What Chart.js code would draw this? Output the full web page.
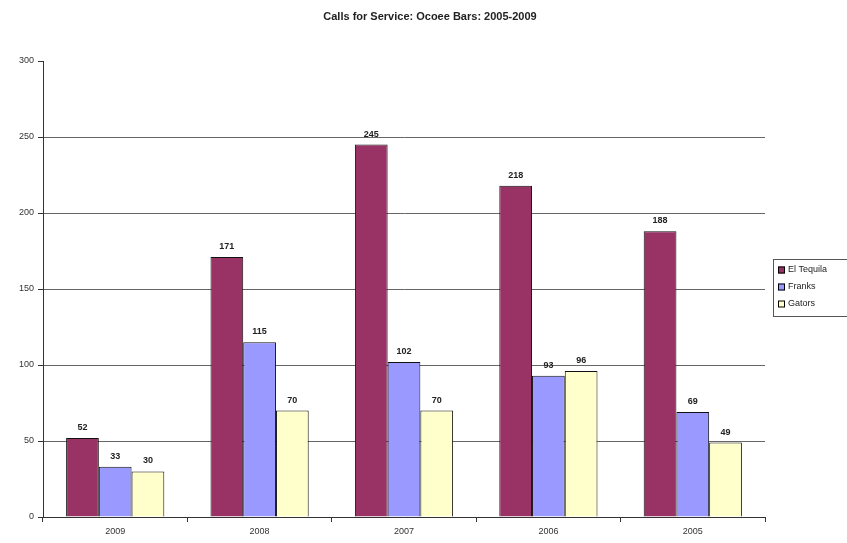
<!DOCTYPE html>
<html>
<head>
<meta charset="utf-8">
<script src="https://cdn.jsdelivr.net/npm/chart.js@4"></script>
<style>
  html, body { margin: 0; padding: 0; background: #fff; }
  #wrap { width: 847px; height: 543px; }
</style>
</head>
<body>
<div id="wrap"><canvas id="grafico"></canvas></div>
<script>
// dados
var anos = ['2009', '2008', '2007', '2006', '2005'];
var elTequila = [52, 171, 245, 218, 188];
var franks = [33, 115, 102, 93, 69];
var gators = [30, 70, 70, 96, 49];
var ticksY = [0, 50, 100, 150, 200, 250, 300];

var fonte = '"Liberation Sans", Arial, sans-serif';

// titulo
var tituloPlugin = {
    id: 'titulo',
    afterDraw: function (chart) {
        var ctx = chart.ctx;
        ctx.save();
        ctx.font = 'bold 11px ' + fonte;
        ctx.fillStyle = '#222';
        ctx.textAlign = 'center';
        ctx.textBaseline = 'middle';
        ctx.fillText('Calls for Service: Ocoee Bars: 2005-2009', 430, 17);
        ctx.restore();
    }
};

// valores em cima das barras
var valoresPlugin = {
    id: 'valores',
    afterDatasetsDraw: function (chart) {
        var ctx = chart.ctx;
        ctx.save();
        ctx.font = 'bold 9px ' + fonte;
        ctx.fillStyle = '#222';
        ctx.textAlign = 'center';
        ctx.textBaseline = 'bottom';
        chart.data.datasets.forEach(function (ds, i) {
            chart.getDatasetMeta(i).data.forEach(function (bar, j) {
                ctx.fillText(ds.data[j], bar.x, bar.y - 6);
            });
        });
        ctx.restore();
    }
};

// legenda com caixa
var legendaPlugin = {
    id: 'legenda',
    afterDraw: function (chart) {
        var ctx = chart.ctx;
        var x = 773, y = 259, w = 80, h = 57;
        ctx.save();
        ctx.strokeStyle = '#555';
        ctx.lineWidth = 1;
        ctx.strokeRect(x + 0.5, y + 0.5, w, h);
        ctx.font = '9px ' + fonte;
        ctx.textBaseline = 'middle';
        chart.data.datasets.forEach(function (ds, i) {
            var cy = y + 11 + i * 17;
            ctx.fillStyle = ds.backgroundColor;
            ctx.fillRect(x + 5, cy - 3.5, 7, 7);
            ctx.strokeStyle = '#000';
            ctx.strokeRect(x + 5.5, cy - 3, 6, 6);
            ctx.fillStyle = '#222';
            ctx.fillText(ds.label, x + 15, cy);
        });
        ctx.restore();
    }
};

var ctx = document.getElementById('grafico').getContext('2d');
var chart = new Chart(ctx, {
    type: 'bar',
    data: {
        labels: anos,
        datasets: [{
            label: 'El Tequila',
            backgroundColor: '#993366',
            borderColor: '#111',
            borderWidth: 1,
            data: elTequila
        }, {
            label: 'Franks',
            backgroundColor: '#9999FF',
            borderColor: '#111',
            borderWidth: 1,
            data: franks
        }, {
            label: 'Gators',
            backgroundColor: '#FFFFCC',
            borderColor: '#111',
            borderWidth: 1,
            data: gators
        }]
    },
    options: {
        responsive: true,
        maintainAspectRatio: false,
        animation: false,
        layout: { padding: { top: 61, right: 82, left: 0, bottom: 0 } },
        datasets: { bar: { categoryPercentage: 0.68, barPercentage: 1 } },
        plugins: {
            legend: { display: false },
            title: { display: false },
            tooltip: { enabled: false }
        },
        scales: {
            x: {
                afterFit: function (scale) { scale.height = 26; },
                grid: {
                    offset: true,
                    drawOnChartArea: false,
                    drawTicks: true,
                    tickLength: 5,
                    color: '#333'
                },
                border: { color: '#333', width: 1 },
                ticks: { font: { family: fonte, size: 9 }, color: '#333', padding: 4 }
            },
            y: {
                min: 0,
                max: 300,
                afterFit: function (scale) { scale.width = 43; },
                afterBuildTicks: function (scale) {
                    scale.ticks = ticksY.map(function (v) { return { value: v }; });
                },
                grid: {
                    color: function (c) {
                        return (c.tick && c.tick.value === 300) ? 'rgba(0,0,0,0)' : '#666';
                    },
                    tickColor: '#333',
                    tickLength: 5,
                    lineWidth: 1
                },
                border: { color: '#333', width: 1 },
                ticks: { font: { family: fonte, size: 9 }, color: '#333', padding: 4 }
            }
        }
    },
    plugins: [tituloPlugin, valoresPlugin, legendaPlugin]
});
</script>
</body>
</html>
